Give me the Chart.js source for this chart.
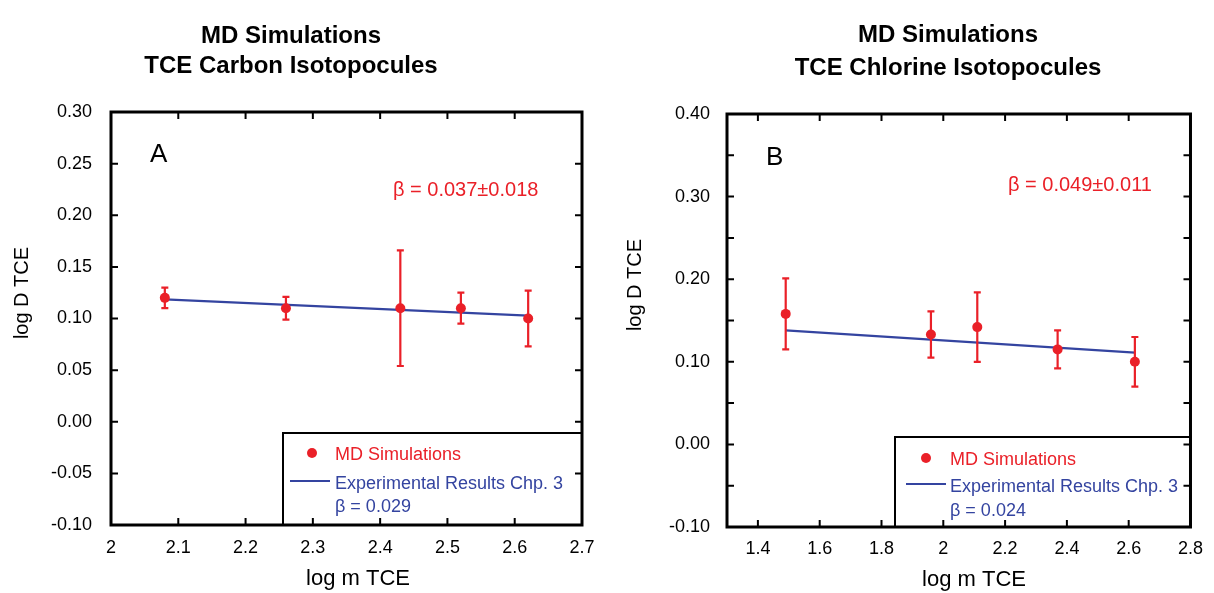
<!DOCTYPE html>
<html>
<head>
<meta charset="utf-8">
<title>TCE isotopocules – MD simulations</title>
<script src="https://cdn.jsdelivr.net/npm/chart.js@4.4.1/dist/chart.umd.min.js"></script>
<style>
  html, body { margin: 0; padding: 0; background: #fff; }
  .panel { position: absolute; top: 0; width: 607px; height: 593px; }
</style>
</head>
<body>
<div class="panel" style="left:0"><canvas id="carbonChart"></canvas></div>
<div class="panel" style="left:607px"><canvas id="chlorineChart"></canvas></div>

<script>
// Panel A: carbon isotopocules
const carbonLogM = [2.08, 2.26, 2.43, 2.52, 2.62];
const carbonLogD = [0.120, 0.110, 0.110, 0.110, 0.100];
const carbonErr = [0.010, 0.011, 0.056, 0.015, 0.027];
const carbonFitM = [2.08, 2.62];
const carbonFitD = [0.1185, 0.1028];
const carbonTicksX = [2.0, 2.1, 2.2, 2.3, 2.4, 2.5, 2.6, 2.7];
const carbonTicksY = [-0.10, -0.05, 0.00, 0.05, 0.10, 0.15, 0.20, 0.25, 0.30];

// Panel B: chlorine isotopocules
const chlorineLogM = [1.49, 1.96, 2.11, 2.37, 2.62];
const chlorineLogD = [0.158, 0.133, 0.142, 0.115, 0.100];
const chlorineErr = [0.043, 0.028, 0.042, 0.023, 0.030];
const chlorineFitM = [1.49, 2.62];
const chlorineFitD = [0.138, 0.111];
const chlorineTicksX = [1.4, 1.6, 1.8, 2.0, 2.2, 2.4, 2.6, 2.8];
const chlorineTicksY = [-0.10, -0.05, 0.00, 0.05, 0.10, 0.15, 0.20, 0.25, 0.30, 0.35, 0.40];

const FONT = '"Liberation Sans", Arial, Helvetica, sans-serif';
const RED = 'rgb(234, 32, 40)';
const BLUE = 'rgb(52, 68, 160)';

// error bars, legend box, frame with inward ticks and the free text
const decorPlugin = {
  id: 'decor',
  afterDatasetsDraw(chart, args, opts) {
    const { ctx, scales: { x, y } } = chart;
    const pts = chart.data.datasets[0].data;
    ctx.save();
    ctx.strokeStyle = RED;
    ctx.lineWidth = 2.2;
    pts.forEach((p, i) => {
      const px = x.getPixelForValue(p.x);
      const top = y.getPixelForValue(p.y + opts.errors[i]);
      const bot = y.getPixelForValue(p.y - opts.errors[i]);
      ctx.beginPath();
      ctx.moveTo(px, top); ctx.lineTo(px, bot);
      ctx.moveTo(px - 3.5, top); ctx.lineTo(px + 3.5, top);
      ctx.moveTo(px - 3.5, bot); ctx.lineTo(px + 3.5, bot);
      ctx.stroke();
    });

    // legend box in the lower right corner
    const a = chart.chartArea, lg = opts.legend;
    const md = chart.data.datasets[0], fit = chart.data.datasets[1];
    ctx.fillStyle = '#fff';
    ctx.fillRect(lg.left, lg.top, a.right - lg.left, a.bottom - lg.top);
    ctx.strokeStyle = '#000';
    ctx.lineWidth = 2;
    ctx.strokeRect(lg.left, lg.top, a.right - lg.left, a.bottom - lg.top);

    ctx.fillStyle = md.backgroundColor;
    ctx.beginPath();
    ctx.arc(lg.dotX, lg.dotY, md.pointRadius, 0, Math.PI * 2);
    ctx.fill();
    ctx.strokeStyle = fit.borderColor;
    ctx.lineWidth = fit.borderWidth;
    ctx.beginPath();
    ctx.moveTo(lg.lineX0, lg.lineY); ctx.lineTo(lg.lineX1, lg.lineY);
    ctx.stroke();

    ctx.font = '18px ' + FONT;
    ctx.textAlign = 'left';
    ctx.textBaseline = 'alphabetic';
    ctx.fillStyle = md.backgroundColor;
    ctx.fillText(md.label, lg.textX, lg.rows[0]);
    ctx.fillStyle = fit.borderColor;
    ctx.fillText(fit.label, lg.textX, lg.rows[1]);
    ctx.fillText(lg.extra, lg.textX, lg.rows[2]);
    ctx.restore();
  },
  afterDraw(chart, args, opts) {
    const { ctx, chartArea: a, scales: { x, y } } = chart;
    ctx.save();
    // inward tick marks on all four sides
    ctx.strokeStyle = '#000';
    ctx.lineWidth = 2;
    ctx.beginPath();
    x.ticks.forEach(t => {
      const px = x.getPixelForValue(t.value);
      if (px <= a.left + 2 || px >= a.right - 2) return;
      ctx.moveTo(px, a.bottom); ctx.lineTo(px, a.bottom - 7);
      ctx.moveTo(px, a.top); ctx.lineTo(px, a.top + 7);
    });
    y.ticks.forEach(t => {
      const py = y.getPixelForValue(t.value);
      if (py <= a.top + 2 || py >= a.bottom - 2) return;
      ctx.moveTo(a.left, py); ctx.lineTo(a.left + 7, py);
      ctx.moveTo(a.right, py); ctx.lineTo(a.right - 7, py);
    });
    ctx.stroke();
    ctx.lineWidth = 3;
    ctx.strokeRect(a.left, a.top, a.right - a.left, a.bottom - a.top);

    // two-line heading
    ctx.fillStyle = '#000';
    ctx.textAlign = 'center';
    ctx.textBaseline = 'alphabetic';
    ctx.font = 'bold 24px ' + FONT;
    opts.title.forEach((line, i) => ctx.fillText(line, opts.titleX, opts.titleY[i]));

    // axis titles
    ctx.font = '22px ' + FONT;
    ctx.fillText(opts.xTitle, opts.xTitleX, opts.xTitleY);
    ctx.save();
    ctx.translate(opts.yTitleX, opts.yTitleY);
    ctx.rotate(-Math.PI / 2);
    ctx.font = '20px ' + FONT;
    ctx.fillText(opts.yTitle, 0, 0);
    ctx.restore();

    // panel letter and fitted slope
    ctx.textAlign = 'left';
    ctx.font = '26px ' + FONT;
    ctx.fillText(opts.letter, opts.letterX, opts.letterY);
    ctx.font = '20px ' + FONT;
    ctx.fillStyle = RED;
    ctx.fillText(opts.beta, opts.betaX, opts.betaY);
    ctx.restore();
  }
};

function buildChart(id, cfg) {
  return new Chart(document.getElementById(id), {
    type: 'scatter',
    data: {
      datasets: [{
        label: 'MD Simulations',
        data: cfg.logM.map((m, i) => ({ x: m, y: cfg.logD[i] })),
        backgroundColor: RED,
        borderWidth: 0,
        pointRadius: 5,
        pointHoverRadius: 5
      }, {
        label: 'Experimental Results Chp. 3',
        data: cfg.fitM.map((m, i) => ({ x: m, y: cfg.fitD[i] })),
        showLine: true,
        borderColor: BLUE,
        borderWidth: 2.2,
        pointRadius: 0,
        pointHoverRadius: 0
      }]
    },
    options: {
      responsive: true,
      maintainAspectRatio: false,
      animation: false,
      events: [],
      layout: { padding: cfg.padding },
      plugins: {
        legend: { display: false },
        tooltip: { enabled: false },
        decor: cfg.decor
      },
      scales: {
        x: {
          min: cfg.xRange[0], max: cfg.xRange[1],
          grid: { display: false, drawTicks: false },
          border: { display: false },
          afterBuildTicks: s => { s.ticks = cfg.ticksX.map(v => ({ value: v })); },
          afterFit: s => { s.height = cfg.xHeight; },
          ticks: {
            color: '#000', padding: cfg.xPad, maxRotation: 0, autoSkip: false,
            font: { family: FONT, size: 18 },
            callback: v => String(+v.toFixed(1))
          }
        },
        y: {
          min: cfg.yRange[0], max: cfg.yRange[1],
          grid: { display: false, drawTicks: false },
          border: { display: false },
          afterBuildTicks: s => { s.ticks = cfg.ticksY.map(v => ({ value: v })); },
          afterFit: s => { s.width = cfg.yWidth; },
          ticks: {
            color: '#000', padding: cfg.yPad, autoSkip: false,
            font: { family: FONT, size: 18 },
            callback: v => cfg.yLabel(v)
          }
        }
      }
    },
    plugins: [decorPlugin]
  });
}

buildChart('carbonChart', {
  logM: carbonLogM, logD: carbonLogD, fitM: carbonFitM, fitD: carbonFitD,
  ticksX: carbonTicksX, ticksY: carbonTicksY,
  xRange: [2.0, 2.7], yRange: [-0.10, 0.30],
  padding: { top: 112, right: 25, bottom: 0, left: 0 },
  yWidth: 111, xHeight: 68, xPad: 12, yPad: 19,
  yLabel: v => v.toFixed(2),
  decor: {
    errors: carbonErr,
    title: ['MD Simulations', 'TCE Carbon Isotopocules'],
    titleX: 291, titleY: [43, 73],
    xTitle: 'log m TCE', xTitleX: 358, xTitleY: 585,
    yTitle: 'log D TCE', yTitleX: 28, yTitleY: 293,
    letter: 'A', letterX: 150, letterY: 162,
    beta: 'β = 0.037±0.018', betaX: 393, betaY: 196,
    legend: {
      left: 283, top: 433, dotX: 312, dotY: 453,
      lineX0: 290, lineX1: 330, lineY: 481,
      textX: 335, rows: [460, 489, 512], extra: 'β = 0.029'
    }
  }
});

buildChart('chlorineChart', {
  logM: chlorineLogM, logD: chlorineLogD, fitM: chlorineFitM, fitD: chlorineFitD,
  ticksX: chlorineTicksX, ticksY: chlorineTicksY,
  xRange: [1.3, 2.8], yRange: [-0.10, 0.40],
  padding: { top: 114, right: 16, bottom: 0, left: 0 },
  yWidth: 120, xHeight: 66, xPad: 11, yPad: 17,
  yLabel: v => Math.abs(v * 10 - Math.round(v * 10)) < 1e-6 ? v.toFixed(2) : '',
  decor: {
    errors: chlorineErr,
    title: ['MD Simulations', 'TCE Chlorine Isotopocules'],
    titleX: 341, titleY: [42, 75],
    xTitle: 'log m TCE', xTitleX: 367, xTitleY: 586,
    yTitle: 'log D TCE', yTitleX: 34, yTitleY: 285,
    letter: 'B', letterX: 159, letterY: 165,
    beta: 'β = 0.049±0.011', betaX: 401, betaY: 191,
    legend: {
      left: 288, top: 437, dotX: 319, dotY: 458,
      lineX0: 299, lineX1: 339, lineY: 484,
      textX: 343, rows: [465, 492, 515.5], extra: 'β = 0.024'
    }
  }
});
</script>
</body>
</html>
